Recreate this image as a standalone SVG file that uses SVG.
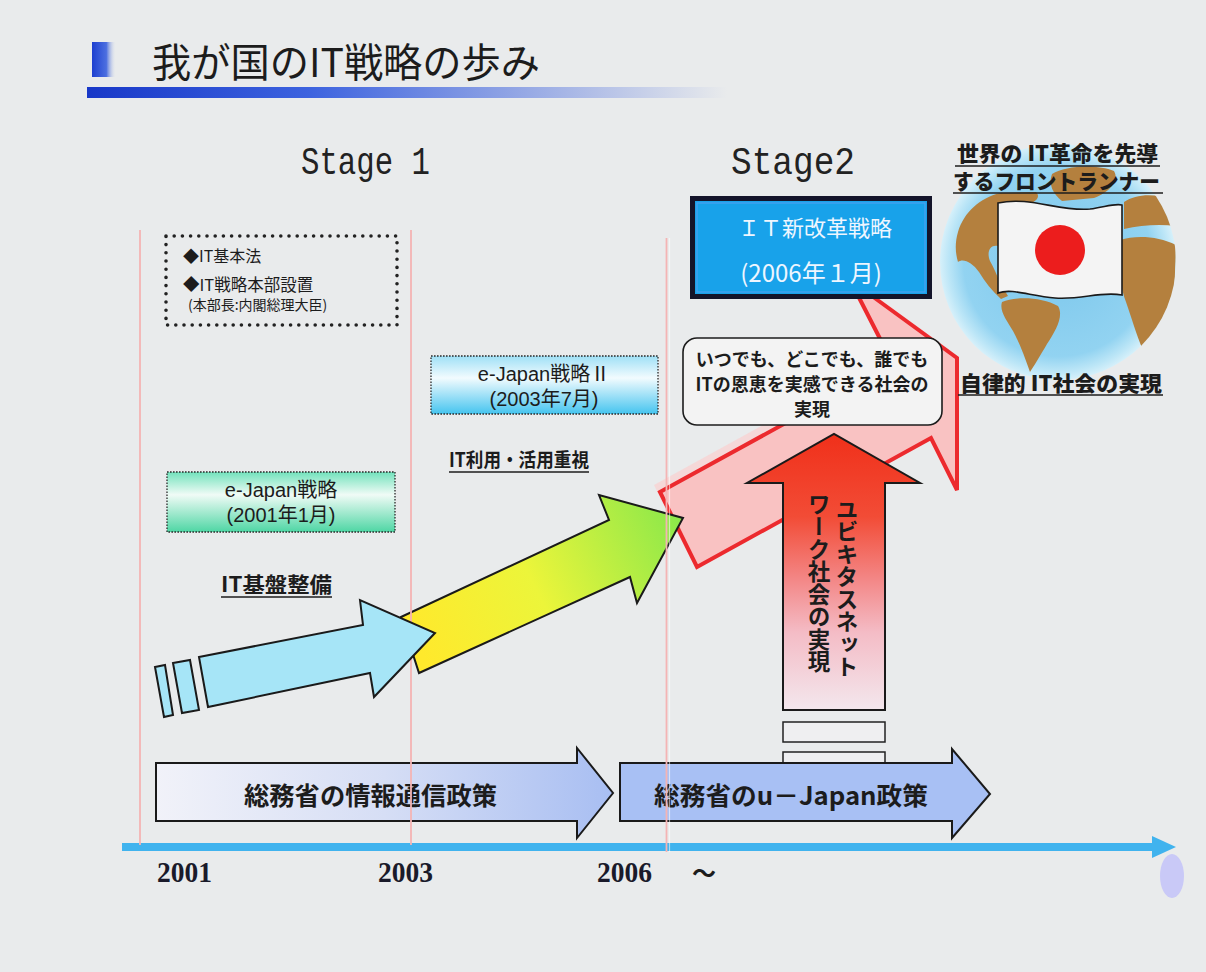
<svg xmlns="http://www.w3.org/2000/svg" width="1206" height="972" viewBox="0 0 1206 972">
  <defs>
    <style>
      .jp{font-family:"Noto Sans CJK JP","Noto Sans CJK SC",sans-serif;fill:#1c1c1c}
      .ls{font-family:"Liberation Sans","Noto Sans CJK JP",sans-serif;fill:#1c1c1c}
      .b{font-weight:bold}
      .hv{font-weight:900}
      .mono{font-family:"Liberation Mono","DejaVu Sans Mono",monospace;fill:#222}
      .yr{font-family:"Liberation Serif","Times New Roman",serif;font-weight:bold;fill:#1a1a2a}
      .vline{stroke:#f4b4b4;stroke-width:1.8;fill:none}
      .ol{stroke:#1a1a1a;stroke-width:2;stroke-linejoin:miter}
      .ul{stroke:#1c1c1c;stroke-width:1.6}
      .dotbox{fill:none;stroke:#2a2a2a;stroke-width:1.3;stroke-dasharray:1.6 1.4}
    </style>
    <linearGradient id="gTitleSq" x1="0" y1="0" x2="1" y2="0">
      <stop offset="0" stop-color="#1d3fd0"/>
      <stop offset="0.6" stop-color="#4c6fe0"/>
      <stop offset="1" stop-color="#e9ebec" stop-opacity="0"/>
    </linearGradient>
    <linearGradient id="gTitleBar" x1="0" y1="0" x2="1" y2="0">
      <stop offset="0" stop-color="#1838c8"/>
      <stop offset="0.35" stop-color="#3d63df"/>
      <stop offset="0.75" stop-color="#a7b6e6"/>
      <stop offset="1" stop-color="#e9ebec"/>
    </linearGradient>
    <linearGradient id="gGreenBox" x1="0" y1="0" x2="0" y2="1">
      <stop offset="0" stop-color="#72e2bc"/>
      <stop offset="0.38" stop-color="#f0fbf6"/>
      <stop offset="1" stop-color="#4ed6a4"/>
    </linearGradient>
    <linearGradient id="gBlueBox" x1="0" y1="0" x2="0" y2="1">
      <stop offset="0" stop-color="#9fe0f6"/>
      <stop offset="0.38" stop-color="#f2fbfe"/>
      <stop offset="1" stop-color="#45c4ef"/>
    </linearGradient>
    <linearGradient id="gYG" gradientUnits="userSpaceOnUse" x1="420" y1="650" x2="680" y2="520">
      <stop offset="0" stop-color="#ffe92c"/>
      <stop offset="0.45" stop-color="#ecf53a"/>
      <stop offset="1" stop-color="#8ce84a"/>
    </linearGradient>
    <linearGradient id="gRed" gradientUnits="userSpaceOnUse" x1="0" y1="434" x2="0" y2="710">
      <stop offset="0" stop-color="#f0301a"/>
      <stop offset="0.3" stop-color="#f24c36"/>
      <stop offset="0.52" stop-color="#f38584"/>
      <stop offset="0.72" stop-color="#f4bcc6"/>
      <stop offset="1" stop-color="#f3e7ed"/>
    </linearGradient>
    <linearGradient id="gPolicy1" x1="0" y1="0" x2="1" y2="0">
      <stop offset="0" stop-color="#f1f2f9"/>
      <stop offset="0.5" stop-color="#d6def5"/>
      <stop offset="1" stop-color="#a8bef2"/>
    </linearGradient>
    <radialGradient id="gGlobe" cx="0.5" cy="0.5" r="0.5">
      <stop offset="0" stop-color="#7cc7ec"/>
      <stop offset="0.8" stop-color="#92d3f1"/>
      <stop offset="0.93" stop-color="#bce6f7"/>
      <stop offset="1" stop-color="#d6f0fa"/>
    </radialGradient>
    <clipPath id="cGlobe">
      <circle cx="1058" cy="262" r="118"/>
    </clipPath>
  </defs>

  <!-- page -->
  <rect x="0" y="0" width="1206" height="972" fill="#e9ebec"/>

  <!-- heading -->
  <g id="title">
    <rect x="92" y="42" width="24" height="35" fill="url(#gTitleSq)"/>
    <rect x="87" y="87" width="640" height="11" fill="url(#gTitleBar)"/>
    <text class="jp" x="152" y="77" font-size="40" textLength="388" lengthAdjust="spacingAndGlyphs">我が国のIT戦略の歩み</text>
  </g>

  <!-- stage headings -->
  <g id="stage1">
    <text class="mono" x="301" y="174" font-size="38" textLength="129" lengthAdjust="spacingAndGlyphs">Stage 1</text>
  </g>
  <g id="stage2">
    <text class="mono" x="731" y="174" font-size="38" textLength="124" lengthAdjust="spacingAndGlyphs">Stage2</text>
  </g>

  <!-- connectors: time line and strategy arrows -->
  <g id="connectors">
    <!-- time axis -->
    <g id="timeline">
      <rect x="122" y="843" width="1034" height="8" fill="#40b3ee"/>
      <polygon points="1152,836 1176,847 1152,858" fill="#40b3ee"/>
      <ellipse cx="1172" cy="876" rx="12" ry="22" fill="#c9c9f7"/>
    </g>

    <!-- ministry policy arrows -->
    <g id="policy-rects">
      <rect x="783" y="722" width="102" height="20" fill="#efeff1" stroke="#222" stroke-width="1.5"/>
      <rect x="783" y="752" width="102" height="11" fill="#efeff1" stroke="#222" stroke-width="1.5"/>
    </g>
    <g id="policy1">
      <polygon class="ol" stroke-width="1.5" fill="url(#gPolicy1)" points="156,763 577,763 577,748 613,793 577,838 577,821 156,821"/>
      <text class="jp b" x="244" y="805" font-size="25" textLength="253" lengthAdjust="spacingAndGlyphs">総務省の情報通信政策</text>
    </g>
    <g id="policy2">
      <polygon class="ol" stroke-width="1.5" fill="#a8c0f4" points="620,763 952,763 952,749 990,794 952,838 952,821 620,821"/>
      <text class="jp b" x="654" y="805" font-size="25" textLength="274" lengthAdjust="spacingAndGlyphs">総務省のu－Japan政策</text>
    </g>

    <!-- stage 2 broad arrow -->
    <g id="arrow-pink">
      <polygon fill="#f8d3d3" opacity="0.8" transform="translate(-6,-7)" points="660,492 893,364 850,280 957,358 957,490 931,438 697,567"/>
      <polygon fill="#f9c2c2" stroke="#ec2a2e" stroke-width="4" stroke-linejoin="miter" points="660,492 893,364 850,280 957,358 957,490 931,438 697,567"/>
    </g>

    <!-- stage 1 to stage 2 arrow -->
    <g id="arrow-green">
      <polygon class="ol" stroke-width="2.5" fill="url(#gYG)" points="401,617 609,520 599,495 683,518 637,603 630,577 419,673"/>
    </g>

    <!-- year separators -->
    <g id="separators">
      <line class="vline" x1="140" y1="230" x2="140" y2="845"/>
      <line class="vline" x1="411" y1="230" x2="411" y2="845"/>
      <line class="vline" x1="666.5" y1="238" x2="666.5" y2="852"/>
      <line x1="669.5" y1="238" x2="669.5" y2="852" stroke="#ffffff" stroke-opacity="0.55" stroke-width="1.2"/>
    </g>

    <!-- infrastructure arrow -->
    <g id="arrow-blue">
      <polygon class="ol" fill="#a6e5f7" points="155,667 165,665 173,715 164,717"/>
      <polygon class="ol" fill="#a6e5f7" points="173,663 190,660 199,710 182,713"/>
      <polygon class="ol" fill="#a6e5f7" points="199,657 363,625 360,600 435,633 374,697 370,673 208,707"/>
    </g>

    <!-- ubiquitous network arrow -->
    <g id="arrow-red">
      <polygon class="ol" stroke-width="1.6" fill="url(#gRed)" points="783,710 783,483 747,483 834,434 920,483 885,483 885,710"/>
      <text class="jp b" x="847" y="498" font-size="22.5" style="writing-mode:vertical-rl">ユビキタスネット</text>
      <text class="jp b" x="819" y="493" font-size="22.5" style="writing-mode:vertical-rl">ワーク社会の実現</text>
    </g>
  </g>

  <!-- year labels -->
  <g id="years">
    <text class="yr" x="157" y="882" font-size="29" textLength="55" lengthAdjust="spacingAndGlyphs">2001</text>
    <text class="yr" x="378" y="882" font-size="29" textLength="55" lengthAdjust="spacingAndGlyphs">2003</text>
    <text class="yr" x="597" y="882" font-size="29" textLength="55" lengthAdjust="spacingAndGlyphs">2006</text>
    <text class="jp b" x="692" y="882" font-size="24">～</text>
  </g>

  <!-- IT basic law box -->
  <g id="basic-law">
    <rect x="166" y="236" width="231" height="89" fill="none" stroke="#222" stroke-width="3.6" stroke-dasharray="0 8.2" stroke-linecap="round"/>
    <text class="jp" x="183" y="262" font-size="16">◆IT基本法</text>
    <text class="jp" x="183" y="291" font-size="16.5">◆IT戦略本部設置</text>
    <text class="jp" x="188" y="310" font-size="14">(本部長:内閣総理大臣)</text>
  </g>

  <!-- e-Japan strategy -->
  <g id="ejapan1">
    <rect x="167" y="472" width="228" height="60" fill="url(#gGreenBox)"/>
    <rect class="dotbox" x="167" y="472" width="228" height="60"/>
    <text class="ls" x="281" y="497" font-size="20" text-anchor="middle">e-Japan戦略</text>
    <text class="ls" x="281" y="522" font-size="20" text-anchor="middle">(2001年1月)</text>
  </g>

  <!-- e-Japan strategy II -->
  <g id="ejapan2">
    <rect x="431" y="356" width="227" height="58" fill="url(#gBlueBox)"/>
    <rect class="dotbox" x="431" y="356" width="227" height="58"/>
    <text class="ls" x="544" y="381" font-size="20" text-anchor="middle">e-Japan戦略Ⅱ</text>
    <text class="ls" x="544" y="406" font-size="20" text-anchor="middle">(2003年7月)</text>
  </g>

  <!-- phase captions -->
  <g id="caption-infra">
    <text class="jp b" x="221" y="592" font-size="21" textLength="111" lengthAdjust="spacingAndGlyphs">IT基盤整備</text>
    <line class="ul" x1="221" y1="597" x2="332" y2="597"/>
  </g>
  <g id="caption-use">
    <text class="jp b" x="449" y="467" font-size="19.5" textLength="140" lengthAdjust="spacingAndGlyphs">IT利用・活用重視</text>
    <line class="ul" x1="449" y1="472" x2="589" y2="472"/>
  </g>

  <!-- anytime anywhere box -->
  <g id="anytime">
    <rect x="683" y="338" width="259" height="87" rx="14" fill="#f3f3f3" stroke="#1c1c1c" stroke-width="1.6"/>
    <text class="jp b" x="812" y="366" font-size="18" text-anchor="middle">いつでも、どこでも、誰でも</text>
    <text class="jp b" x="812" y="391" font-size="18" text-anchor="middle">ITの恩恵を実感できる社会の</text>
    <text class="jp b" x="812" y="416" font-size="18" text-anchor="middle">実現</text>
  </g>

  <!-- IT new reform strategy -->
  <g id="it-reform">
    <rect x="692.5" y="198.5" width="237" height="98" fill="#18a2ea" stroke="#14142a" stroke-width="5"/>
    <rect x="697" y="203" width="228" height="89" fill="none" stroke="#4aa0f0" stroke-width="1.2"/>
    <text class="jp" x="815" y="236" font-size="22" text-anchor="middle" style="fill:#eef6ff">ＩＴ新改革戦略</text>
    <text class="jp" x="811" y="282" font-size="24" text-anchor="middle" style="fill:#eef6ff">(2006年１月)</text>
  </g>

  <!-- globe with flag -->
  <g id="globe">
    <circle cx="1058" cy="262" r="118" fill="url(#gGlobe)"/>
    <g clip-path="url(#cGlobe)" fill="#b4803e">
      <!-- Greenland -->
      <path d="M1052,174 C1066,165 1098,164 1114,171 C1120,181 1108,193 1094,198 L1062,201 C1053,194 1048,184 1052,174Z"/>
      <!-- North America -->
      <path d="M958,232 C964,212 980,198 1000,193 L1036,192 C1041,197 1036,202 1028,204 L998,205 L998,246 C991,244 986,251 990,261 C994,268 997,275 999,281 L1008,296 L1001,299 C992,291 985,282 979,272 C972,262 963,258 958,262 C955,252 955,242 958,232Z"/>
      <!-- South America -->
      <path d="M1002,302 C1016,296 1042,297 1058,306 C1064,316 1056,330 1047,344 C1040,356 1034,366 1030,372 C1025,358 1020,344 1013,331 C1007,321 999,311 1002,302Z"/>
      <!-- Europe -->
      <path d="M1124,202 C1136,194 1155,193 1172,200 L1176,226 C1160,224 1141,225 1124,229 Z"/>
      <!-- Africa -->
      <path d="M1120,240 C1136,235 1158,236 1176,245 L1174,300 C1165,320 1152,338 1143,350 C1136,334 1131,316 1126,302 C1120,286 1117,262 1120,240Z"/>
    </g>
    <path d="M998,203 C1030,196 1060,212 1090,209 C1105,207 1115,203 1122,205 L1122,295 C1100,291 1082,300 1055,298 C1030,296 1012,288 998,293 Z" fill="#f4f4f4" stroke="#1a1a1a" stroke-width="1.6"/>
    <circle cx="1060" cy="250" r="25" fill="#ec1d1d"/>
  </g>

  <!-- goals around the globe -->
  <g id="frontrunner">
    <text class="jp hv" x="957" y="161" font-size="21" textLength="201" lengthAdjust="spacingAndGlyphs">世界の IT革命を先導</text>
    <line class="ul" x1="955" y1="166" x2="1160" y2="166"/>
    <text class="jp hv" x="953" y="189" font-size="21" textLength="207" lengthAdjust="spacingAndGlyphs">するフロントランナー</text>
    <line class="ul" x1="953" y1="193" x2="1163" y2="193"/>
  </g>
  <g id="autonomous">
    <text class="jp hv" x="960" y="391" font-size="21" textLength="202" lengthAdjust="spacingAndGlyphs">自律的 IT社会の実現</text>
    <line class="ul" x1="958" y1="395" x2="1163" y2="395"/>
  </g>
</svg>
